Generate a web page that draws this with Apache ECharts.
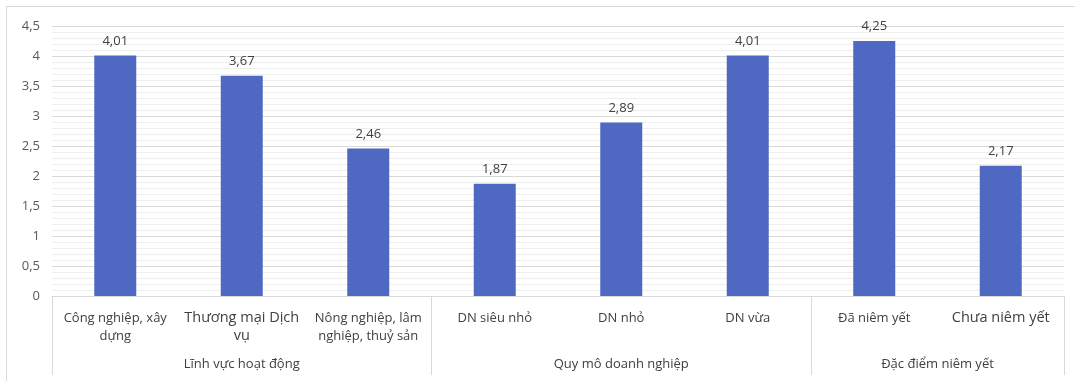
<!DOCTYPE html>
<html>
<head>
<meta charset="utf-8">
<script src="https://cdn.jsdelivr.net/npm/echarts@6/dist/echarts.min.js"></script>
<style>
  html, body { margin: 0; padding: 0; background: #ffffff; }
  #frame { position: absolute; left: 6px; top: 6px; width: 1075px; height: 381px; border-left: 1px solid #d9d9d9; border-top: 1px solid #d9d9d9; }
  #chart { position: absolute; left: 0; top: 0; width: 1075px; height: 381px; }
</style>
</head>
<body>
<div id="frame"></div>
<div id="chart"></div>
<script>
// ---- data ----
const categories = [
  'Công nghiệp, xây\ndựng',
  'Thương mại Dịch\nvụ',
  'Nông nghiệp, lâm\nnghiệp, thuỷ sản',
  'DN siêu nhỏ',
  'DN nhỏ',
  'DN vừa',
  'Đã niêm yết',
  'Chưa niêm yết'
];
const values = [4.01, 3.67, 2.46, 1.87, 2.89, 4.01, 4.25, 2.17];
const groupNames = ['Lĩnh vực hoạt động', 'Quy mô doanh nghiệp', 'Đặc điểm niêm yết'];
const groupSizes = [3, 3, 2];
const yTicks = ['0', '0,5', '1', '1,5', '2', '2,5', '3', '3,5', '4', '4,5'];

// ---- styling ----
const largeLabelCats = ['Thương mại Dịch\nvụ', 'Chưa niêm yết'];
const FONT = '"Open Sans", sans-serif';

// build half-unit group axis (boundaryGap false, one point per half category)
const totalHalf = categories.length * 2;
const groupAxisData = new Array(totalHalf + 1).fill('');
const groupBoundaryIdx = [0];
let acc = 0;
groupSizes.forEach((n, i) => {
  groupAxisData[acc * 2 + n] = groupNames[i];
  acc += n;
  groupBoundaryIdx.push(acc * 2);
});

const chart = echarts.init(document.getElementById('chart'), null, { renderer: 'canvas' });
chart.setOption({
  animation: false,
  textStyle: { fontFamily: FONT },
  grid: { left: 52, right: 11, top: 26, bottom: 85 },
  xAxis: [
    {
      type: 'category',
      data: categories,
      axisLine: { show: true, lineStyle: { color: '#d9d9d9' } },
      axisTick: { show: false },
      axisLabel: {
        interval: 0,
        margin: 13,
        color: '#404040',
        fontFamily: FONT,
        fontSize: 13,
        lineHeight: 18,
        formatter: function (v) {
          return largeLabelCats.indexOf(v) >= 0 ? v.split('\n').map(s => '{big|' + s + '}').join('\n') : v;
        },
        rich: { big: { fontSize: 14.5, lineHeight: 18, color: '#404040', fontFamily: FONT } }
      }
    },
    {
      type: 'category',
      position: 'bottom',
      boundaryGap: false,
      data: groupAxisData,
      axisLine: { show: false },
      axisTick: {
        show: true,
        length: 79,
        interval: function (idx) { return groupBoundaryIdx.indexOf(idx) >= 0; },
        lineStyle: { color: '#d9d9d9' }
      },
      axisLabel: {
        interval: 0,
        margin: 62,
        color: '#404040',
        fontFamily: FONT,
        fontSize: 13
      }
    }
  ],
  yAxis: {
    type: 'value',
    min: 0,
    max: 4.5,
    interval: 0.5,
    axisLine: { show: false },
    axisTick: { show: false },
    axisLabel: {
      margin: 12,
      color: '#595959',
      fontFamily: FONT,
      fontSize: 13,
      formatter: function (v) { return yTicks[Math.round(v / 0.5)]; }
    },
    splitLine: { show: true, lineStyle: { color: '#d9d9d9' } },
    minorTick: { show: false, splitNumber: 5 },
    minorSplitLine: { show: true, lineStyle: { color: '#eeeeee' } }
  },
  series: [{
    type: 'bar',
    data: values,
    barWidth: 42,
    itemStyle: { color: '#4f69c2' },
    label: {
      show: true,
      position: 'top',
      distance: 8,
      color: '#404040',
      fontFamily: FONT,
      fontSize: 13,
      formatter: function (p) { return p.value.toFixed(2).replace('.', ','); }
    }
  }]
});
</script>
</body>
</html>
